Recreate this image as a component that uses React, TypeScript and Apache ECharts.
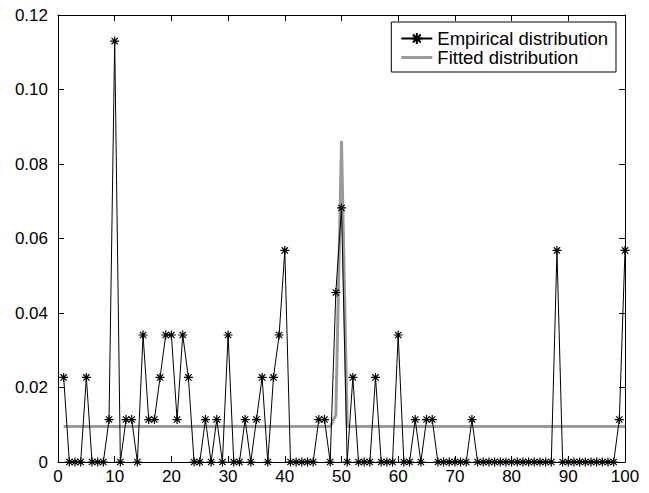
import React, { useEffect, useRef } from "react";
import * as echarts from "echarts";

const xValues: number[] = [
  1, 2, 3, 4, 5, 6, 7, 8, 9, 10, 11, 12, 13, 14, 15, 16, 17, 18, 19, 20,
  21, 22, 23, 24, 25, 26, 27, 28, 29, 30, 31, 32, 33, 34, 35, 36, 37, 38, 39, 40,
  41, 42, 43, 44, 45, 46, 47, 48, 49, 50, 51, 52, 53, 54, 55, 56, 57, 58, 59, 60,
  61, 62, 63, 64, 65, 66, 67, 68, 69, 70, 71, 72, 73, 74, 75, 76, 77, 78, 79, 80,
  81, 82, 83, 84, 85, 86, 87, 88, 89, 90, 91, 92, 93, 94, 95, 96, 97, 98, 99, 100,
];

const empirical: number[] = [
  0.0227, 0, 0, 0, 0.0227, 0, 0, 0, 0.0114, 0.113,
  0, 0.0114, 0.0114, 0, 0.0341, 0.0114, 0.0114, 0.0227, 0.0341, 0.0341,
  0.0114, 0.0341, 0.0227, 0, 0, 0.0114, 0, 0.0114, 0, 0.0341,
  0, 0, 0.0114, 0, 0.0114, 0.0227, 0, 0.0227, 0.0341, 0.0568,
  0, 0, 0, 0, 0, 0.0114, 0.0114, 0, 0.0455, 0.0682,
  0, 0.0227, 0, 0, 0, 0.0227, 0, 0, 0, 0.0341,
  0, 0, 0.0114, 0, 0.0114, 0.0114, 0, 0, 0, 0,
  0, 0, 0.0114, 0, 0, 0, 0, 0, 0, 0,
  0, 0, 0, 0, 0, 0, 0, 0.0568, 0, 0,
  0, 0, 0, 0, 0, 0, 0, 0, 0.0114, 0.0568,
];

const fitted: number[] = [
  0.0095, 0.0095, 0.0095, 0.0095, 0.0095, 0.0095, 0.0095, 0.0095, 0.0095, 0.0095,
  0.0095, 0.0095, 0.0095, 0.0095, 0.0095, 0.0095, 0.0095, 0.0095, 0.0095, 0.0095,
  0.0095, 0.0095, 0.0095, 0.0095, 0.0095, 0.0095, 0.0095, 0.0095, 0.0095, 0.0095,
  0.0095, 0.0095, 0.0095, 0.0095, 0.0095, 0.0095, 0.0095, 0.0095, 0.0095, 0.0095,
  0.0095, 0.0095, 0.0095, 0.0095, 0.0095, 0.0095, 0.0095, 0.0095, 0.0126, 0.0862,
  0.0095, 0.0095, 0.0095, 0.0095, 0.0095, 0.0095, 0.0095, 0.0095, 0.0095, 0.0095,
  0.0095, 0.0095, 0.0095, 0.0095, 0.0095, 0.0095, 0.0095, 0.0095, 0.0095, 0.0095,
  0.0095, 0.0095, 0.0095, 0.0095, 0.0095, 0.0095, 0.0095, 0.0095, 0.0095, 0.0095,
  0.0095, 0.0095, 0.0095, 0.0095, 0.0095, 0.0095, 0.0095, 0.0095, 0.0095, 0.0095,
  0.0095, 0.0095, 0.0095, 0.0095, 0.0095, 0.0095, 0.0095, 0.0095, 0.0095, 0.0095,
];

const seriesNames: string[] = ["Empirical distribution", "Fitted distribution"];
const xRange: number[] = [0, 100, 10];
const yRange: number[] = [0, 0.12, 0.02];

const FONT = "'Liberation Sans', Arial, Helvetica, sans-serif";
const STAR = "path://M0,-10L0,10M-10,0L10,0M-7,-7L7,7M-7,7L7,-7";

const axisCommon = {
  axisLine: { show: true, onZero: false, lineStyle: { color: "#000", width: 1 } },
  axisTick: { show: true, inside: true, length: 6, lineStyle: { color: "#000", width: 1 } },
  splitLine: { show: false },
};

export default function App() {
  const ref = useRef<HTMLDivElement>(null);
  useEffect(() => {
    if (!ref.current) return;
    const chart = echarts.init(ref.current, undefined, { renderer: "svg" });
    const xAxisBase = { type: "value", min: xRange[0], max: xRange[1], interval: xRange[2], ...axisCommon };
    const yAxisBase = { type: "value", min: yRange[0], max: yRange[1], interval: yRange[2], ...axisCommon };
    chart.setOption({
      animation: false,
      backgroundColor: "#fff",
      grid: { left: 58, top: 15, right: 24, bottom: 31, containLabel: false },
      xAxis: [
        {
          ...xAxisBase,
          position: "bottom",
          axisLabel: { color: "#000", fontSize: 17, fontFamily: FONT, margin: 6 },
        },
        { ...xAxisBase, position: "top", axisLabel: { show: false } },
      ],
      yAxis: [
        {
          ...yAxisBase,
          position: "left",
          axisLabel: {
            color: "#000",
            fontSize: 17,
            fontFamily: FONT,
            margin: 10,
            formatter: (v: number) => (v === 0 ? "0" : v.toFixed(2)),
          },
        },
        { ...yAxisBase, position: "right", axisLabel: { show: false } },
      ],
      legend: {
        data: [
          { name: seriesNames[0] },
          { name: seriesNames[1], icon: "path://M0,0L31,0L31,3L0,3Z", itemStyle: { color: "#9a9a9a" } },
        ],
        orient: "vertical",
        right: 33,
        top: 22,
        backgroundColor: "#fff",
        borderColor: "#000",
        borderWidth: 1,
        borderRadius: 0,
        padding: [7, 8, 5, 9],
        itemGap: 0,
        itemWidth: 31,
        itemHeight: 14,
        textStyle: { fontSize: 18.5, color: "#000", fontFamily: FONT, lineHeight: 18 },
      },
      series: [
        {
          name: seriesNames[1],
          type: "line",
          data: xValues.map((x, i) => [x, fitted[i]]),
          symbol: "none",
          lineStyle: { color: "#9a9a9a", width: 3 },
          itemStyle: { color: "#9a9a9a" },
          z: 2,
          clip: false,
        },
        {
          name: seriesNames[0],
          type: "line",
          data: xValues.map((x, i) => [x, empirical[i]]),
          symbol: STAR,
          symbolSize: 9,
          showAllSymbol: true,
          lineStyle: { color: "#000", width: 1 },
          itemStyle: { color: "#000", borderColor: "#000", borderWidth: 1.2 },
          z: 3,
          clip: false,
        },
      ],
    });
    return () => chart.dispose();
  }, []);
  return (
    <div
      ref={ref}
      style={{ position: "fixed", left: 0, top: 0, width: 649, height: 493, background: "#fff" }}
    />
  );
}
